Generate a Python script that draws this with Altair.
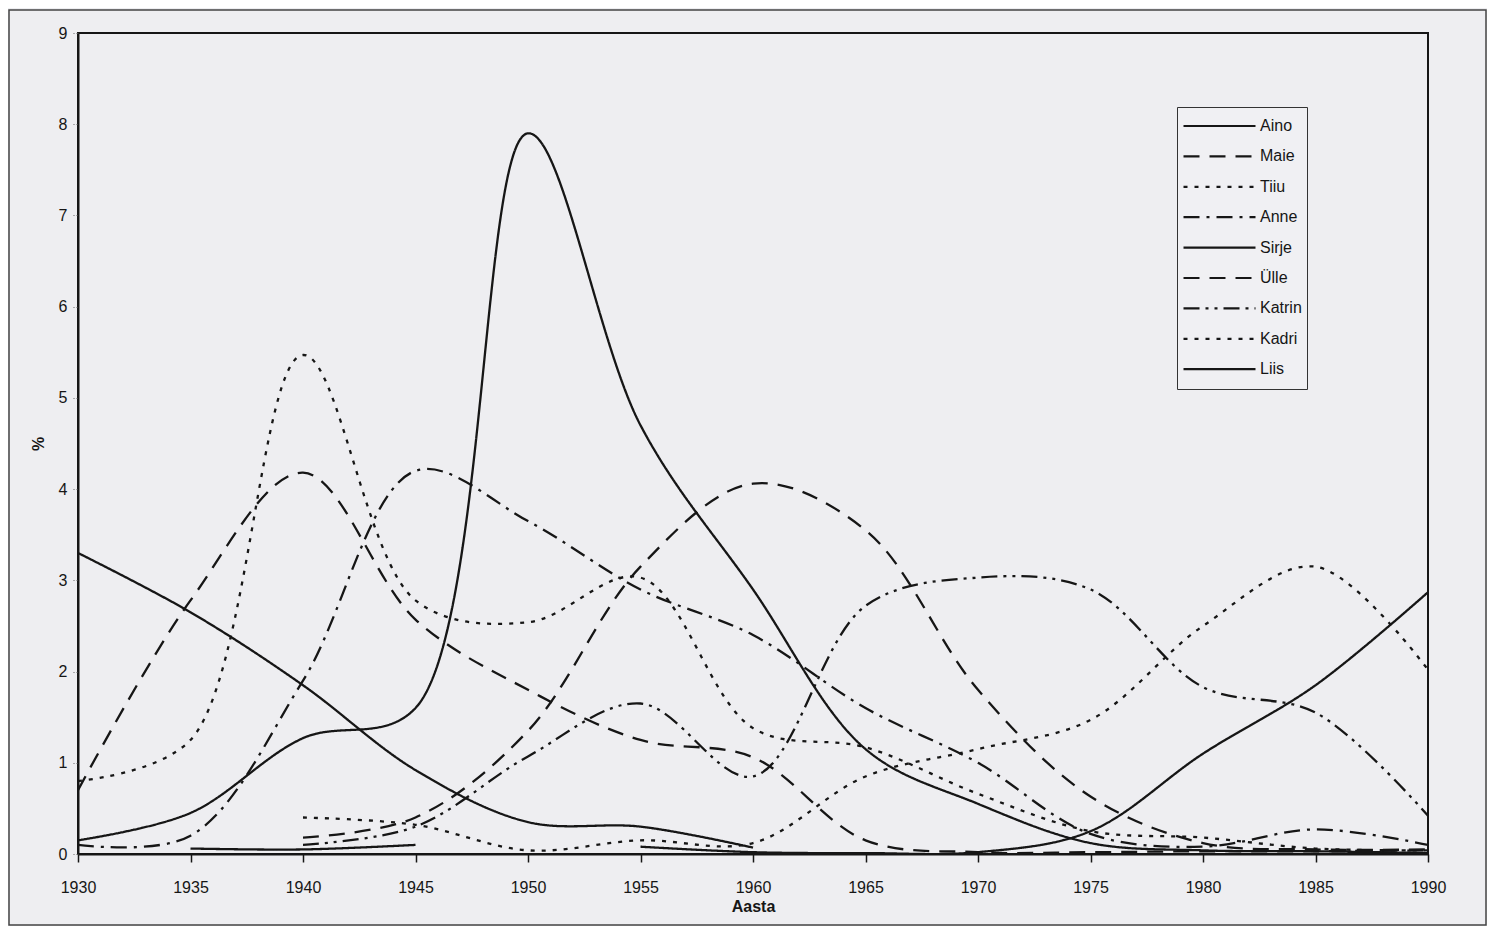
import altair as alt
import pandas as pd

years = [1930, 1935, 1940, 1945, 1950, 1955, 1960, 1965, 1970, 1975, 1980, 1985, 1990]

names = ["Aino", "Maie", "Tiiu", "Anne", "Sirje", "Ülle", "Katrin", "Kadri", "Liis"]

aino   = [3.3, 2.65, 1.85, 0.92, 0.35, 0.3, 0.07, None, None, None, None, None, None]
maie   = [0.7, 2.78, 4.18, 2.57, 1.8, 1.25, 1.06, 0.15, 0.02, 0.02, 0.03, 0.03, 0.04]
tiiu   = [0.8, 1.25, 5.47, 2.78, 2.54, 3.03, 1.38, 1.17, 0.66, 0.25, 0.18, 0.06, 0.04]
anne   = [0.1, 0.2, 1.9, 4.2, 3.65, 2.9, 2.4, 1.6, 1.0, 0.22, 0.08, 0.27, 0.1]
sirje  = [0.15, 0.45, 1.27, 1.6, 7.9, 4.7, 2.9, 1.15, 0.55, 0.12, 0.04, 0.03, 0.01]
ulle   = [None, None, 0.18, 0.4, 1.35, 3.15, 4.06, 3.55, 1.8, 0.63, 0.12, 0.05, 0.05]
katrin = [None, None, 0.1, 0.3, 1.07, 1.65, 0.85, 2.72, 3.03, 2.9, 1.83, 1.55, 0.42]
kadri  = [None, None, 0.4, 0.32, 0.04, 0.15, 0.12, 0.85, 1.15, 1.47, 2.5, 3.15, 2.02]
liis   = [None, 0.06, 0.05, 0.1, None, 0.08, 0.02, 0.01, 0.02, 0.25, 1.1, 1.85, 2.87]

series = [aino, maie, tiiu, anne, sirje, ulle, katrin, kadri, liis]

dashes = [
    [1, 0],
    [16, 10],
    [4, 7],
    [16, 7, 3, 7],
    [1, 0],
    [16, 10],
    [16, 6, 3, 6, 3, 6],
    [4, 7],
    [1, 0],
]

rows = []
for name, vals in zip(names, series):
    seg = 0
    prev_none = True
    for yr, v in zip(years, vals):
        if v is None:
            prev_none = True
            continue
        if prev_none:
            seg += 1
            prev_none = False
        rows.append({"name": name, "seg": f"{name}-{seg}", "year": yr, "value": v})
df = pd.DataFrame(rows)

FONT = "Liberation Sans"
INK = "#161616"

lines = alt.Chart(df).mark_line(
    interpolate="catmull-rom", color=INK, strokeWidth=2.3, clip=True
).encode(
    x=alt.X(
        "year:Q",
        scale=alt.Scale(domain=[1930, 1990], nice=False, zero=False),
        axis=alt.Axis(
            values=years, format="d", title="Aasta", grid=False, labelFlush=False,
            labelFont=FONT, labelFontSize=16, labelColor=INK, labelPadding=17,
            tickSize=8, tickColor=INK, tickWidth=1.5,
            domainColor=INK, domainWidth=2,
            titleFont=FONT, titleFontSize=16, titleFontWeight="bold",
            titleColor=INK, titlePadding=3,
        ),
    ),
    y=alt.Y(
        "value:Q",
        scale=alt.Scale(domain=[0, 9], nice=False),
        axis=alt.Axis(
            values=list(range(10)), title="%", grid=False, labelFlush=False,
            labelFont=FONT, labelFontSize=16, labelColor=INK, labelPadding=6,
            tickSize=5, tickColor="#666", tickDash=[2, 2], tickWidth=1,
            domainColor=INK, domainWidth=2,
            titleFont=FONT, titleFontSize=16, titleFontWeight="bold",
            titleColor=INK, titlePadding=12,
        ),
    ),
    strokeDash=alt.StrokeDash(
        "name:N",
        scale=alt.Scale(domain=names, range=dashes),
        legend=alt.Legend(
            title=None, orient="none", legendX=1099, legendY=74,
            symbolType="stroke", symbolSize=5184, symbolStrokeWidth=2.2,
            symbolStrokeColor=INK, clipHeight=28, rowPadding=2.4,
            labelFont=FONT, labelFontSize=16, labelColor=INK, labelOffset=3,
            strokeColor="#333", padding=5, fillColor="#f0f0f3",
        ),
    ),
    detail="seg:N",
)

frame = alt.Chart(pd.DataFrame({"k": [0]})).mark_rect(
    fill=None, stroke="#444", strokeWidth=1.5, clip=False
).encode(
    x=alt.value(-69), x2=alt.value(1408),
    y=alt.value(-23), y2=alt.value(892),
)

chart = alt.layer(frame, lines).properties(
    width=1350, height=821,
    padding={"left": 70, "top": 25, "right": 59, "bottom": 72},
    autosize=alt.AutoSizeParams(type="none"),
    background="#eeeef1",
).configure_view(
    stroke=INK, strokeWidth=2
)

chart.save("out.html", embed_options={"renderer": "svg", "actions": False})
